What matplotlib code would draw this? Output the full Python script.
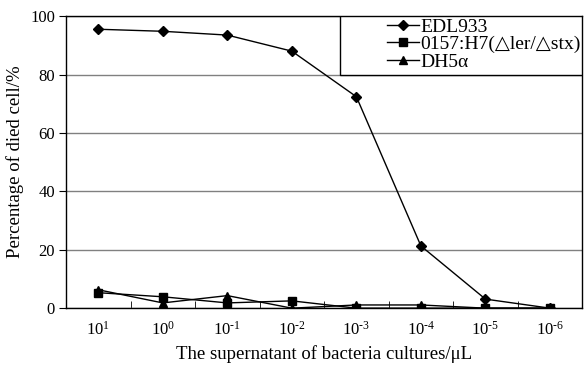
import numpy as np
import matplotlib
matplotlib.use("Agg")
import matplotlib.pyplot as plt
import matplotlib.patches as ptc

# Data
categories = ["$10^{1}$", "$10^{0}$", "$10^{\u20101}$", "$10^{\u20102}$",
              "$10^{\u20103}$", "$10^{\u20104}$", "$10^{\u20105}$", "$10^{\u20106}$"]
edl933 = [95.5, 94.8, 93.5, 88.0, 72.4, 21.3, 3.1, 0.0]
o157 = [5.3, 3.9, 1.8, 2.5, 0.0, 0.0, 0.0, 0.0]
dh5a = [6.3, 1.8, 4.3, 0.0, 1.1, 1.1, 0.0, 0.0]
series_names = ["EDL933", "0157:H7(\u25b3ler/\u25b3stx)", "DH5\u03b1"]

plt.rcParams['font.family'] = ['Liberation Serif', 'DejaVu Sans']
plt.rcParams['mathtext.fontset'] = 'custom'
plt.rcParams['mathtext.rm'] = 'Liberation Serif'
plt.rcParams['mathtext.it'] = 'Liberation Serif'

fig = plt.figure(figsize=(5.84, 3.66), dpi=100)
ax = fig.add_axes([0.113, 0.158, 0.884, 0.798])

x = np.arange(len(categories))
ax.plot(x, edl933, color='k', lw=1, marker='D', ms=5, label=series_names[0])
ax.plot(x, o157, color='k', lw=1, marker='s', ms=6, label=series_names[1])
ax.plot(x, dh5a, color='k', lw=1, marker='^', ms=6, label=series_names[2])

ax.set_xlim(-0.5, len(categories) - 0.5)
ax.set_ylim(0, 100)
ax.set_yticks([0, 20, 40, 60, 80, 100])
ax.yaxis.grid(True, color='#808080', lw=1)
ax.set_axisbelow(True)

ax.set_xticks(x)
ax.set_xticklabels(categories, fontsize=12)
ax.set_xticks(np.arange(0.5, len(categories) - 1, 1), minor=True)
ax.tick_params(axis='x', which='major', length=0, pad=9)
ax.tick_params(axis='x', which='minor', direction='in', length=5)
ax.tick_params(axis='y', direction='out', length=5, labelsize=12, pad=3)

for s in ax.spines.values():
    s.set_color('k')
    s.set_linewidth(1)

ax.set_xlabel("The supernatant of bacteria cultures/\u03bcL", fontsize=13.5, labelpad=5)
ax.set_ylabel("Percentage of died cell/%", fontsize=13.5, labelpad=4)

# legend box
box = ptc.Rectangle((0.531, 0.8), 0.469, 0.2, transform=ax.transAxes,
                    facecolor='white', edgecolor='k', lw=1, zorder=3)
ax.add_patch(box)
leg = ax.legend(loc='upper right', bbox_to_anchor=(1.0, 1.0), frameon=False,
                fontsize=14, handlelength=1.65, handletextpad=0.05,
                labelspacing=0.0, borderpad=0.1, borderaxespad=0)
leg.set_zorder(4)

fig.savefig("out.png", dpi=100)
